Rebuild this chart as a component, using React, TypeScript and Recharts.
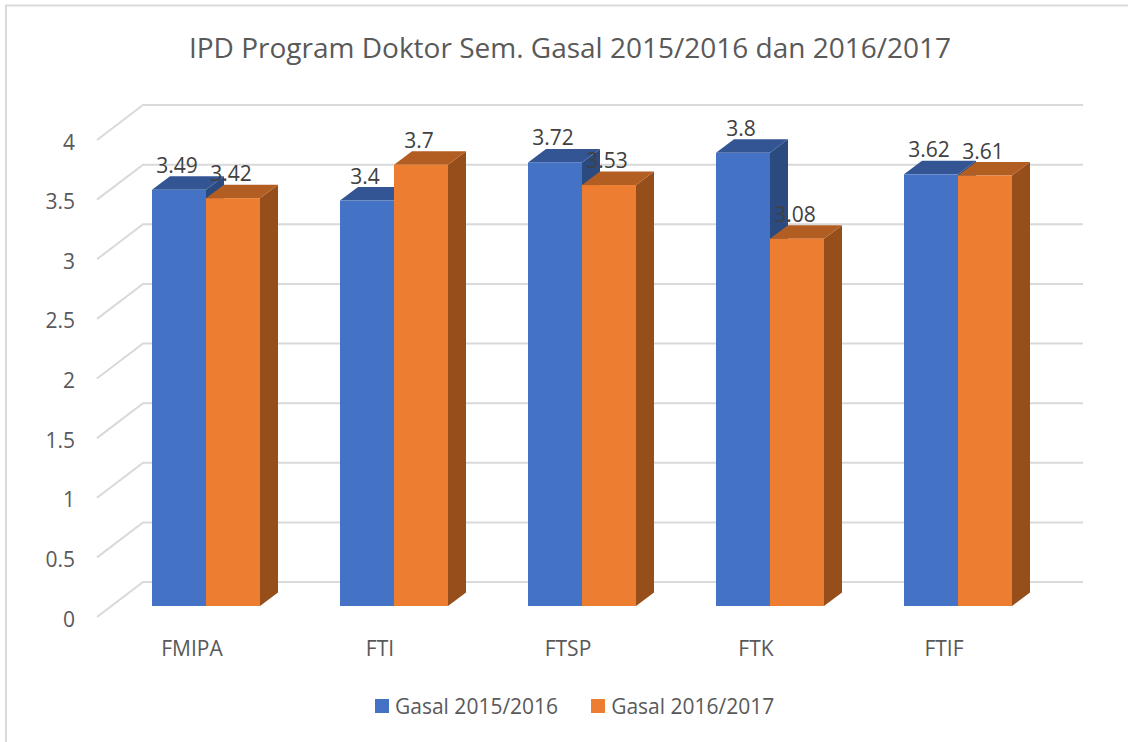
import React from "react";
import { BarChart, Bar, XAxis, YAxis, CartesianGrid, Legend, LabelList } from "recharts";

const categories = ["FMIPA", "FTI", "FTSP", "FTK", "FTIF"];
const gasal2015 = [3.49, 3.4, 3.72, 3.8, 3.62];
const gasal2016 = [3.42, 3.7, 3.53, 3.08, 3.61];
const yTicks = [0, 0.5, 1, 1.5, 2, 2.5, 3, 3.5, 4];
const seriesNames = ["Gasal 2015/2016", "Gasal 2016/2017"];
const titleText = "IPD Program Doktor Sem. Gasal 2015/2016 dan 2016/2017";

const data = categories.map((name, i) => ({
  name,
  a: gasal2015[i],
  b: gasal2016[i],
}));

const FONT = "'Open Sans', sans-serif";
const DX = 18;
const DY = 13.5;

const makeBar = (front: string, top: string, side: string) => (props: any) => {
  const { x, y, width, height } = props;
  const r = x + width;
  const b = y + height;
  return (
    <g>
      <polygon points={`${r},${y} ${r + DX},${y - DY} ${r + DX},${b - DY} ${r},${b}`} fill={side} />
      <polygon points={`${x},${y} ${x + DX},${y - DY} ${r + DX},${y - DY} ${r},${y}`} fill={top} />
      <rect x={x} y={y} width={width} height={height} fill={front} />
    </g>
  );
};

const BlueBar = makeBar("#4472C4", "#335593", "#2A4A80");
const OrangeBar = makeBar("#ED7D31", "#B25D22", "#964F1B");

const ValueLabel = (props: any) => {
  const { x, y, width, value } = props;
  return (
    <text
      x={x + width / 2 - 2}
      y={y - 25}
      textAnchor="middle"
      dominantBaseline="central"
      fontFamily={FONT}
      fontSize={21}
      fill="#404040"
    >
      {value}
    </text>
  );
};

const gridLine = (props: any) => {
  const y = props.y1;
  return (
    <path
      key={props.key ?? y}
      d={`M97,${y + 11} L143,${y - 24} L1083,${y - 24}`}
      fill="none"
      stroke="#D9D9D9"
      strokeWidth={2}
    />
  );
};

const XTick = (props: any) => (
  <text
    x={props.x - 14}
    y={648}
    textAnchor="middle"
    dominantBaseline="central"
    fontFamily={FONT}
    fontSize={21}
    fill="#595959"
  >
    {props.payload.value}
  </text>
);

const YTick = (props: any) => (
  <text
    x={75}
    y={props.y + 12.5}
    textAnchor="end"
    dominantBaseline="central"
    fontFamily={FONT}
    fontSize={21}
    fill="#595959"
  >
    {props.payload.value}
  </text>
);

const LegendContent = (props: any) => (
  <div style={{ display: "flex", fontFamily: FONT, fontSize: 21, color: "#595959", lineHeight: "28px", whiteSpace: "nowrap" }}>
    {(props.payload ?? []).map((p: any) => (
      <div key={p.value} style={{ display: "flex", alignItems: "center", marginRight: 33 }}>
        <span style={{ width: 14, height: 14, background: p.color, marginRight: 6, display: "inline-block" }} />
        <span>{p.value}</span>
      </div>
    ))}
  </div>
);

export default function App() {
  return (
    <div style={{ position: "absolute", left: 0, top: 0, width: 1128, height: 742, background: "#fff" }}>
      <BarChart
        width={1128}
        height={742}
        data={data}
        margin={{ top: 129, right: 76, bottom: 106, left: 12 }}
        barCategoryGap={40}
        barGap={0}
      >
        <path d="M6,742 L6,5.5 L1128,5.5" fill="none" stroke="#D9D9D9" strokeWidth={2} />
        <text
          x={570}
          y={47}
          textAnchor="middle"
          dominantBaseline="central"
          fontFamily={FONT}
          fontSize={28}
          fill="#595959"
        >
          {titleText}
        </text>
        <CartesianGrid vertical={false} horizontal={gridLine} />
        <XAxis dataKey="name" axisLine={false} tickLine={false} tick={XTick} interval={0} />
        <YAxis
          width={100}
          domain={[0, 4]}
          ticks={yTicks}
          axisLine={false}
          tickLine={false}
          tick={YTick}
          interval={0}
        />
        <Legend
          layout="horizontal"
          verticalAlign="middle"
          align="center"
          content={LegendContent}
          wrapperStyle={{ position: "absolute", left: 375, top: 692, width: "auto", height: 28 }}
        />
        <Bar dataKey="a" name={seriesNames[0]} fill="#4472C4" shape={BlueBar} isAnimationActive={false}>
          <LabelList dataKey="a" content={ValueLabel} />
        </Bar>
        <Bar dataKey="b" name={seriesNames[1]} fill="#ED7D31" shape={OrangeBar} isAnimationActive={false}>
          <LabelList dataKey="b" content={ValueLabel} />
        </Bar>
      </BarChart>
    </div>
  );
}
